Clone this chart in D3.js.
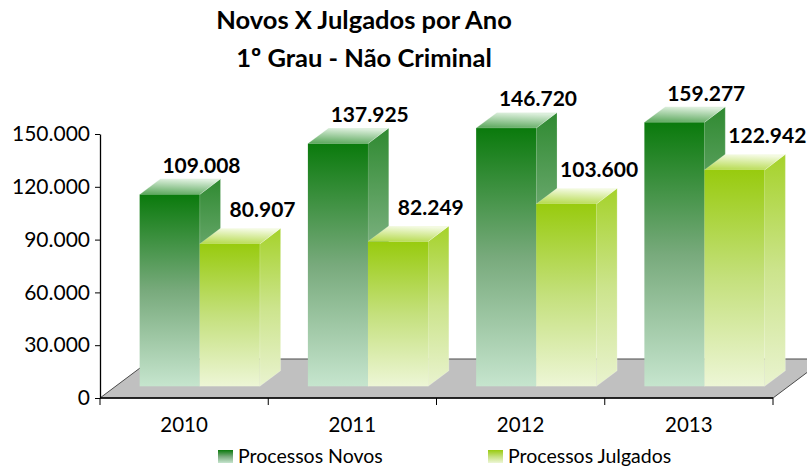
<!DOCTYPE html>
<html>
<head>
<meta charset="utf-8">
<script src="https://cdn.jsdelivr.net/npm/d3@7"></script>
<style>
    body { margin: 0; background: #fff; }
    svg { display: block; }
    text { font-family: Lato, "Open Sans", sans-serif; fill: #000; }
</style>
</head>
<body>
<svg id="chart" width="807" height="467"></svg>
<script>
// chart data
const years = ['2010', '2011', '2012', '2013'];
const seriesNames = ['Processos Novos', 'Processos Julgados'];
const novos = [109008, 137925, 146720, 159277];
const julgados = [80907, 82249, 103600, 122942];
const yTicks = [0, 30000, 60000, 90000, 120000, 150000];
const titleLines = ['Novos X Julgados por Ano', '1º Grau - Não Criminal'];

const seriesValues = [novos, julgados];

// pt-BR number format: 109.008
const fmt = d3.formatLocale({ decimal: ',', thousands: '.', grouping: [3], currency: ['R$', ''] }).format(',d');

const svg = d3.select('#chart');

// plot frame (front plane of the floor)
const plotLeft = 100, plotRight = 773, plotBottom = 398, plotTop = 134;
// oblique depth of the whole floor, bars sit between 30% and 70% of it
const depthX = 52, depthY = -39;
const barFront = 0.3, barBack = 0.7;

// bars taller than the axis max get cut at 150.000, like the source chart
const y = d3.scaleLinear().domain([0, 150000]).range([plotBottom, plotTop]).clamp(true);
const x0 = d3.scaleBand().domain(years).range([plotLeft, plotRight]);
const x1 = d3.scaleBand().domain(seriesNames).range([0, x0.bandwidth()]).paddingOuter(0.4);

// gradients
const palette = [
    { front: ['#0a7a0c', '#78aa7c', '#c6e5ce'], side: ['#2f8a31', '#82b486', '#c4e0c8'], top: ['#dcefdc', '#5aa75b'] },
    { front: ['#98cb0e', '#c4e07c', '#edf6d6'], side: ['#a5d22a', '#cce48c', '#e9f3cf'], top: ['#f3fae0', '#b5da4c'] }
];
const defs = svg.append('defs');
palette.forEach((p, s) => {
    ['front', 'side'].forEach(face => {
        const g = defs.append('linearGradient')
            .attr('id', `g-${face}-${s}`)
            .attr('x1', 0).attr('y1', 0).attr('x2', 0).attr('y2', 1);
        g.selectAll('stop').data(p[face]).join('stop')
            .attr('offset', (d, i) => i / (p[face].length - 1))
            .attr('stop-color', d => d);
    });
    const t = defs.append('linearGradient')
        .attr('id', `g-top-${s}`)
        .attr('x1', 0.3).attr('y1', 0).attr('x2', 0.1).attr('y2', 1);
    t.selectAll('stop').data(p.top).join('stop')
        .attr('offset', (d, i) => i)
        .attr('stop-color', d => d);
});

// title
svg.append('g')
    .selectAll('text')
    .data(titleLines)
    .join('text')
    .attr('x', 364)
    .attr('y', (d, i) => 29 + i * 38)
    .attr('text-anchor', 'middle')
    .attr('font-size', '25.5px')
    .attr('font-weight', 'bold')
    .text(d => d);

// floor
const floorPts = [
    [plotLeft, plotBottom],
    [plotRight, plotBottom],
    [plotRight + depthX, plotBottom + depthY],
    [plotLeft + depthX, plotBottom + depthY]
];
svg.append('polygon')
    .attr('points', floorPts.map(p => p.join(',')).join(' '))
    .attr('fill', '#c0c0c0')
    .attr('stroke', '#4a4a4a')
    .attr('stroke-width', 1);

// y axis
const yAxis = svg.append('g')
    .attr('transform', `translate(${plotLeft},0)`)
    .call(d3.axisLeft(y).tickValues(yTicks).tickSize(5).tickSizeOuter(0).tickPadding(5).tickFormat(fmt));
yAxis.select('.domain').attr('stroke', '#000').attr('stroke-width', 1.3);
yAxis.selectAll('.tick line').attr('stroke', '#000');
yAxis.selectAll('.tick text')
    .attr('font-family', 'Lato, sans-serif')
    .attr('font-size', '21px')
    .attr('fill', '#000');

// x axis: line, ticks on band edges, labels centred
const xAxis = svg.append('g');
xAxis.append('line')
    .attr('x1', plotLeft).attr('x2', plotRight)
    .attr('y1', plotBottom).attr('y2', plotBottom)
    .attr('stroke', '#000').attr('stroke-width', 1.3);
xAxis.selectAll('.xtick')
    .data(years.map(d => x0(d)).concat([plotRight]))
    .join('line')
    .attr('class', 'xtick')
    .attr('x1', d => d).attr('x2', d => d)
    .attr('y1', plotBottom).attr('y2', plotBottom + 7)
    .attr('stroke', '#000');
xAxis.selectAll('.xlabel')
    .data(years)
    .join('text')
    .attr('class', 'xlabel')
    .attr('x', d => x0(d) + x0.bandwidth() / 2)
    .attr('y', 432)
    .attr('text-anchor', 'middle')
    .attr('font-size', '20.5px')
    .text(d => d);

// bars, drawn category by category so later bars cover earlier labels
const frontDx = depthX * barFront, frontDy = depthY * barFront;
const sideDx = depthX * (barBack - barFront), sideDy = depthY * (barBack - barFront);
const barW = x1.bandwidth();
const labelShift = [{ dx: 11, dy: -6 }, { dx: 12, dy: -11 }];

years.forEach((year, i) => {
    const g = svg.append('g').attr('class', 'category');
    const bars = seriesNames.map((name, s) => {
        const v = seriesValues[s][i];
        const xl = x0(year) + x1(name) + frontDx;
        const xr = xl + barW;
        const yt = y(v) + frontDy;
        const yb = y(0) + frontDy;
        return { s, v, xl, xr, yt, yb };
    });

    bars.forEach(b => {
        const bg = g.append('g');
        bg.append('polygon')
            .attr('points', [[b.xr, b.yt], [b.xr + sideDx, b.yt + sideDy], [b.xr + sideDx, b.yb + sideDy], [b.xr, b.yb]].map(p => p.join(',')).join(' '))
            .attr('fill', `url(#g-side-${b.s})`)
            .attr('stroke', 'rgba(255,255,255,0.35)')
            .attr('stroke-width', 0.6);
        bg.append('polygon')
            .attr('points', [[b.xl, b.yt], [b.xr, b.yt], [b.xr + sideDx, b.yt + sideDy], [b.xl + sideDx, b.yt + sideDy]].map(p => p.join(',')).join(' '))
            .attr('fill', `url(#g-top-${b.s})`)
            .attr('stroke', 'rgba(255,255,255,0.35)')
            .attr('stroke-width', 0.6);
        bg.append('rect')
            .attr('x', b.xl)
            .attr('y', b.yt)
            .attr('width', barW)
            .attr('height', b.yb - b.yt)
            .attr('fill', `url(#g-front-${b.s})`);
    });

    bars.forEach(b => {
        g.append('text')
            .attr('x', b.xl + barW / 2 + sideDx + labelShift[b.s].dx)
            .attr('y', b.yt + sideDy + labelShift[b.s].dy)
            .attr('text-anchor', 'middle')
            .attr('font-size', '21px')
            .attr('font-weight', 'bold')
            .text(fmt(b.v));
    });
});

// legend
const legend = svg.append('g')
    .selectAll('g')
    .data(seriesNames)
    .join('g')
    .attr('transform', (d, i) => `translate(${218 + i * 270},450)`);
legend.append('rect')
    .attr('width', 15)
    .attr('height', 13)
    .attr('fill', (d, i) => `url(#g-front-${i})`);
legend.append('text')
    .attr('x', 20)
    .attr('y', 13)
    .attr('font-size', '19.5px')
    .text(d => d);
</script>
</body>
</html>
